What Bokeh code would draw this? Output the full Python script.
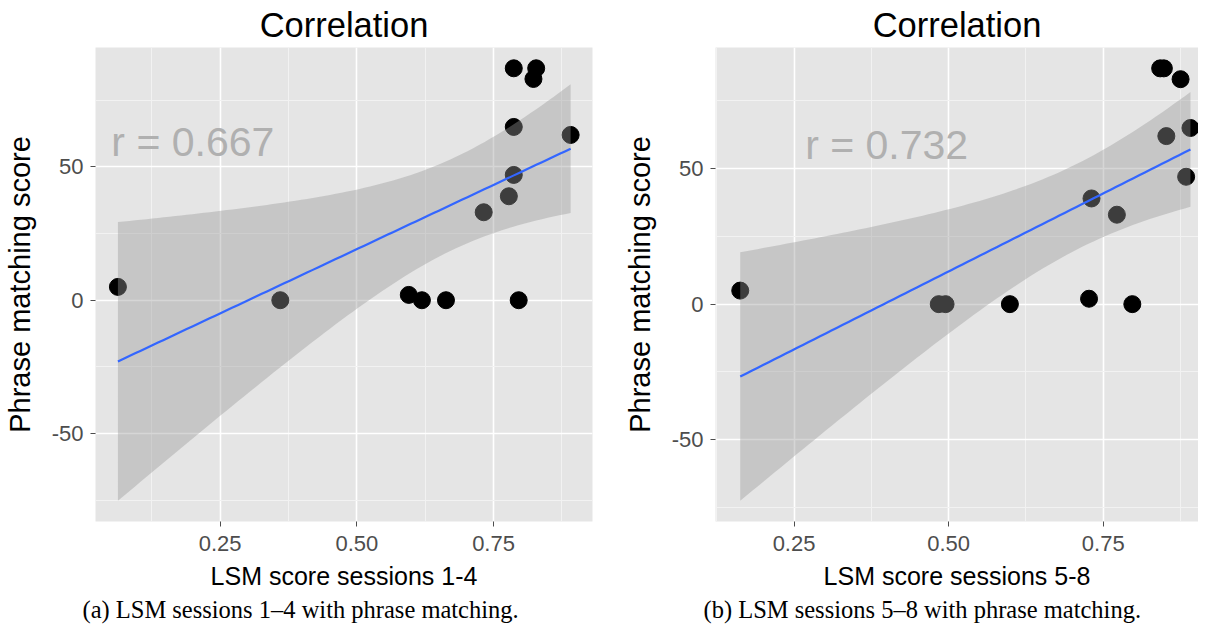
import numpy as np
from bokeh.plotting import figure
from bokeh.layouts import row
from bokeh.models import FixedTicker, Title, Label, Range1d
from bokeh.embed import file_html
from bokeh.resources import INLINE

# ---- data ----
lsm_1_4 = [0.063, 0.360, 0.595, 0.619, 0.663, 0.732, 0.778, 0.787, 0.787, 0.796, 0.787, 0.828, 0.823, 0.891]
phrase_1_4 = [5, 0, 2, 0, 0, 33, 39, 47, 65, 0, 87, 87, 83, 62]
lsm_5_8 = [0.163, 0.484, 0.495, 0.599, 0.727, 0.731, 0.772, 0.797, 0.842, 0.848, 0.875, 0.852, 0.891, 0.884]
phrase_5_8 = [5, 0, 0, 0, 2, 39, 33, 0, 87, 87, 83, 62, 65, 47]

x_ticks = [0.25, 0.50, 0.75]
x_tick_labels = ["0.25", "0.50", "0.75"]
x_minor = [0.125, 0.375, 0.625, 0.875]
y_ticks = [-50, 0, 50]
y_tick_labels = ["-50", "0", "50"]
y_minor = [-75, -25, 25, 75]

titles = ["Correlation", "Correlation"]
x_labels = ["LSM score sessions 1-4", "LSM score sessions 5-8"]
y_label = "Phrase matching score"
captions = ["(a) LSM sessions 1\u20134 with phrase matching.",
            "(b) LSM sessions 5\u20138 with phrase matching."]
r_texts = ["r = 0.667", "r = 0.732"]

T_DF12 = 2.179  # t quantile (0.975, df = n - 2)

FONT = "Liberation Sans"


def lm_smooth(x, y, n=80):
    x = np.asarray(x, float)
    y = np.asarray(y, float)
    b1, b0 = np.polyfit(x, y, 1)
    xs = np.linspace(x.min(), x.max(), n)
    resid = y - (b0 + b1 * x)
    s = np.sqrt(np.sum(resid ** 2) / (len(x) - 2))
    se = s * np.sqrt(1.0 / len(x) + (xs - x.mean()) ** 2 / np.sum((x - x.mean()) ** 2))
    fit = b0 + b1 * xs
    return xs, fit, fit - T_DF12 * se, fit + T_DF12 * se


def panel(x, y, xr, yr, title, xlabel, caption, rtext, rpos, frame_w,
          b_left, b_right, cap_offset):
    p = figure(frame_width=frame_w, frame_height=474,
               x_range=Range1d(*xr), y_range=Range1d(*yr),
               output_backend="svg", toolbar_location=None,
               min_border_left=b_left, min_border_right=b_right,
               min_border_top=0, min_border_bottom=0,
               background_fill_color="#E5E5E5", border_fill_color="white",
               outline_line_color=None)
    p.title.text = title
    p.title.text_font = FONT
    p.title.text_font_size = "34.5px"
    p.title.text_font_style = "normal"
    p.title.text_color = "black"
    p.title.align = "center"
    p.title.standoff = 7

    p.xaxis.ticker = FixedTicker(ticks=x_ticks, minor_ticks=x_minor)
    p.xaxis.major_label_overrides = {t: l for t, l in zip(x_ticks, x_tick_labels)}
    p.yaxis.ticker = FixedTicker(ticks=y_ticks, minor_ticks=y_minor)
    p.yaxis.major_label_overrides = {t: l for t, l in zip(y_ticks, y_tick_labels)}
    for ax in (p.xaxis, p.yaxis):
        ax.axis_line_color = None
        ax.major_tick_line_color = "#4D4D4D"
        ax.major_tick_line_width = 1
        ax.major_tick_out = 5
        ax.major_tick_in = 0
        ax.minor_tick_line_color = None
        ax.major_label_text_font = FONT
        ax.major_label_text_font_size = "22px"
        ax.major_label_text_color = "#4D4D4D"
        ax.axis_label_text_font = FONT
        ax.axis_label_text_font_style = "normal"
        ax.axis_label_text_color = "black"
    p.xaxis.major_label_standoff = 9
    p.yaxis.major_label_standoff = 7
    p.xaxis.axis_label = xlabel
    p.xaxis.axis_label_text_font_size = "25px"
    p.xaxis.axis_label_standoff = 8
    p.yaxis.axis_label = y_label
    p.yaxis.axis_label_text_font_size = "29px"
    p.yaxis.axis_label_standoff = 13

    for g in (p.xgrid, p.ygrid):
        g.grid_line_color = "white"
        g.grid_line_width = 1.6
        g.minor_grid_line_color = "#F2F2F2"
        g.minor_grid_line_width = 1

    p.scatter(x, y, size=17, fill_color="black", line_color="black")
    xs, fit, lo, hi = lm_smooth(x, y)
    p.varea(x=xs, y1=lo, y2=hi, fill_color="#999999", fill_alpha=0.4)
    p.line(xs, fit, line_color="#3366FF", line_width=2.2)

    p.add_layout(Label(x=rpos[0], y=rpos[1], text=rtext, text_font=FONT,
                       text_font_size="41px", text_color="#B0B0B0",
                       text_align="left", text_baseline="alphabetic"))

    cap = Title(text=caption, align="left", text_font="Liberation Serif",
                text_font_size="24.5px", text_font_style="normal",
                text_color="black", offset=cap_offset, standoff=3)
    p.add_layout(cap, "below")
    return p


p1 = panel(lsm_1_4, phrase_1_4, (0.022, 0.931), (-83.0, 94.8), titles[0],
           x_labels[0], captions[0], r_texts[0], (0.051, 59.5), 497, 88, 10, -13)
p2 = panel(lsm_5_8, phrase_5_8, (0.123, 0.904), (-80.2, 94.7), titles[1],
           x_labels[1], captions[1], r_texts[1], (0.268, 58.9), 483, 113, 0, -12)

layout = row(p1, p2, spacing=0)
open("out.html", "w").write(file_html(layout, INLINE))
